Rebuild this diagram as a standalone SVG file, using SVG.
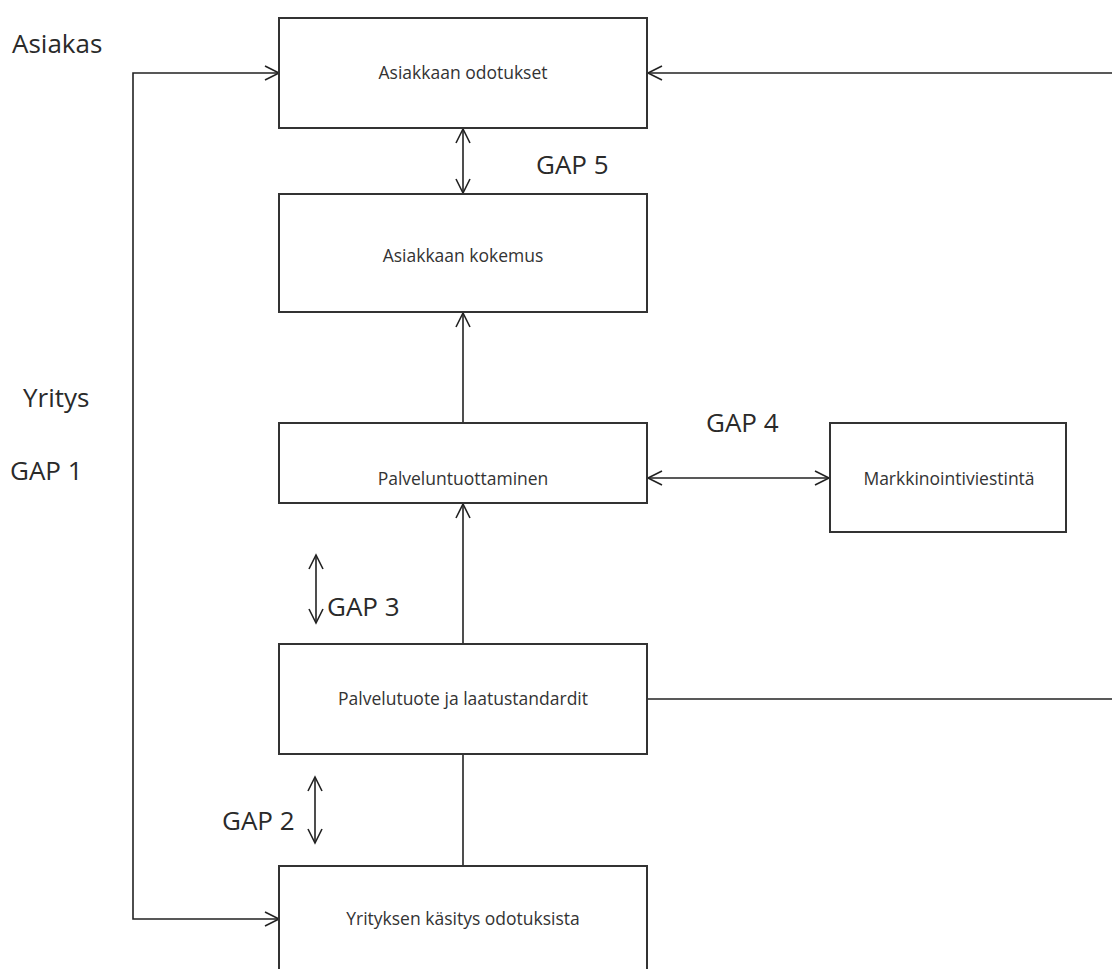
<svg xmlns="http://www.w3.org/2000/svg" width="1112" height="969" viewBox="0 0 1112 969">
  <style>
    .box { fill: #ffffff; stroke: #333333; stroke-width: 2; }
    .line { fill: none; stroke: #222222; stroke-width: 1.6; }
    .label { font-family: "Open Sans", "Liberation Sans", sans-serif; font-size: 17.5px; fill: #333333; text-anchor: middle; }
    .big { font-family: "Open Sans", "Liberation Sans", sans-serif; font-size: 26px; fill: #2a2a2a; }
  </style>
  <defs>
    <marker id="open" markerUnits="userSpaceOnUse" markerWidth="18" markerHeight="18" refX="15" refY="8" orient="auto-start-reverse" viewBox="0 0 18 16">
      <path d="M1,1 L15,8 L1,15" fill="none" stroke="#222222" stroke-width="1.6"/>
    </marker>
  </defs>
  <rect width="1112" height="969" fill="#ffffff"/>

  <!-- side captions and gap labels -->
  <g id="captions">
    <text class="big" x="12" y="53">Asiakas</text>
    <text class="big" x="23" y="407">Yritys</text>
    <text class="big" x="10" y="480">GAP 1</text>
    <text class="big" x="222" y="830">GAP 2</text>
    <text class="big" x="327" y="616">GAP 3</text>
    <text class="big" x="706" y="432">GAP 4</text>
    <text class="big" x="536" y="174">GAP 5</text>
  </g>

  <!-- connectors -->
  <g id="connectors">
    <!-- left return loop -->
    <polyline class="line" points="279,73 133,73 133,919 279,919" marker-start="url(#open)" marker-end="url(#open)"/>
    <!-- right feed into expectations -->
    <line class="line" x1="1112" y1="73" x2="648" y2="73" marker-end="url(#open)"/>
    <!-- GAP 5 -->
    <line class="line" x1="463" y1="129" x2="463" y2="193" marker-start="url(#open)" marker-end="url(#open)"/>
    <!-- delivery to experience -->
    <line class="line" x1="463" y1="423" x2="463" y2="313" marker-end="url(#open)"/>
    <!-- GAP 4 -->
    <line class="line" x1="648" y1="478" x2="829" y2="478" marker-start="url(#open)" marker-end="url(#open)"/>
    <!-- standards to delivery -->
    <line class="line" x1="463" y1="644" x2="463" y2="504" marker-end="url(#open)"/>
    <!-- GAP 3 -->
    <line class="line" x1="316" y1="555" x2="316" y2="623" marker-start="url(#open)" marker-end="url(#open)"/>
    <!-- standards to right edge -->
    <line class="line" x1="648" y1="699" x2="1112" y2="699"/>
    <!-- perception to standards -->
    <line class="line" x1="463" y1="866" x2="463" y2="754"/>
    <!-- GAP 2 -->
    <line class="line" x1="315" y1="777" x2="315" y2="843" marker-start="url(#open)" marker-end="url(#open)"/>
  </g>

  <g id="node-odotukset">
    <rect class="box" x="279" y="18" width="368" height="110"/>
    <text class="label" x="463" y="79">Asiakkaan odotukset</text>
  </g>
  <g id="node-kokemus">
    <rect class="box" x="279" y="194" width="368" height="118"/>
    <text class="label" x="463" y="262">Asiakkaan kokemus</text>
  </g>
  <g id="node-palveluntuottaminen">
    <rect class="box" x="279" y="423" width="368" height="80"/>
    <text class="label" x="463" y="485">Palveluntuottaminen</text>
  </g>
  <g id="node-markkinointi">
    <rect class="box" x="830" y="423" width="236" height="109"/>
    <text class="label" x="949" y="485">Markkinointiviestintä</text>
  </g>
  <g id="node-palvelutuote">
    <rect class="box" x="279" y="644" width="368" height="110"/>
    <text class="label" x="463" y="705">Palvelutuote ja laatustandardit</text>
  </g>
  <g id="node-kasitys">
    <rect class="box" x="279" y="866" width="368" height="120"/>
    <text class="label" x="463" y="925">Yrityksen käsitys odotuksista</text>
  </g>
</svg>
